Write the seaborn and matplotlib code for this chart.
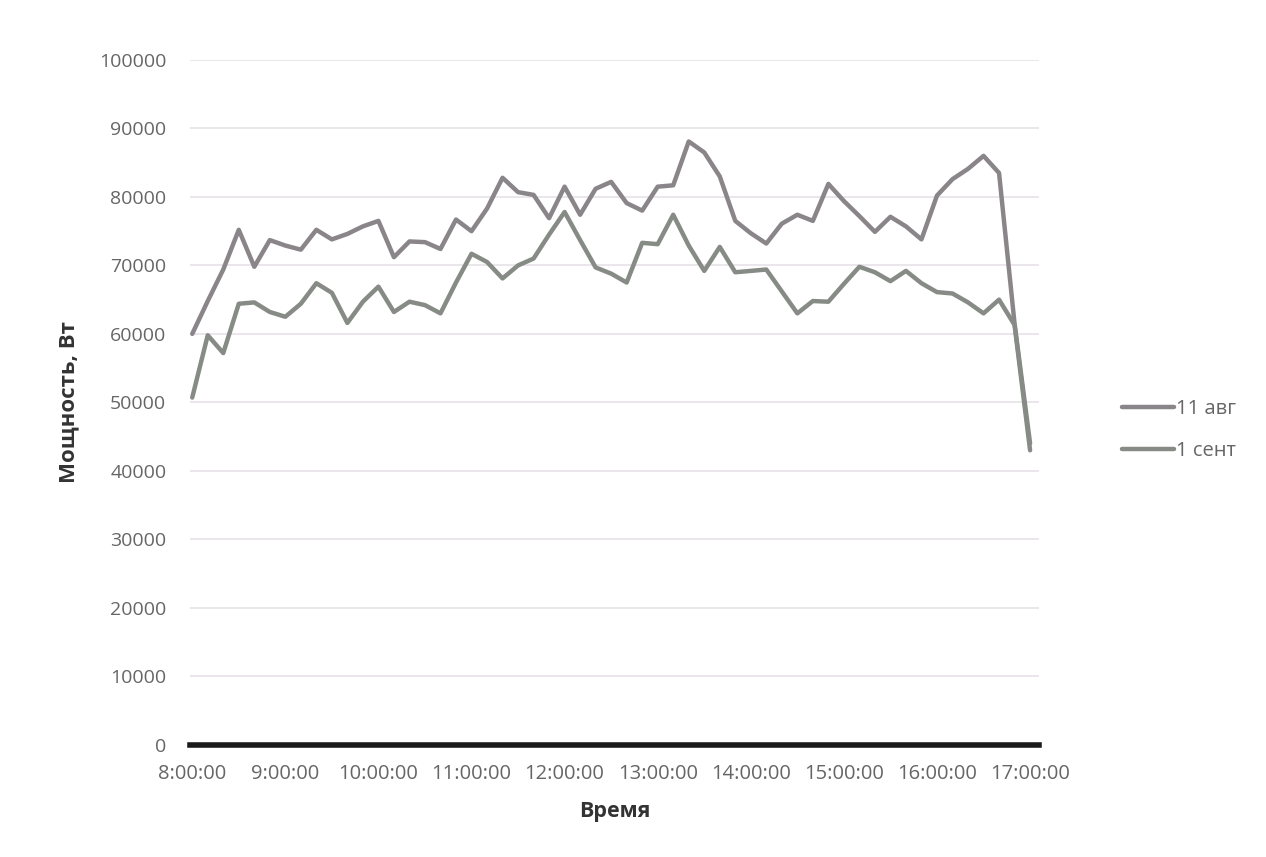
import matplotlib
matplotlib.use('Agg')
import matplotlib.pyplot as plt
import seaborn as sns
import pandas as pd

# Power readings every 10 min, 8:00 .. 17:00 (55 points)
aug_11 = [60000, 64800, 69400, 75200, 69800, 73700, 72900, 72300, 75200, 73800,
          74600, 75700, 76500, 71200, 73500, 73400, 72400, 76700, 75000, 78300,
          82800, 80700, 80300, 76900, 81500, 77400, 81200, 82200, 79100, 78000,
          81500, 81700, 88100, 86500, 83000, 76500, 74700, 73200, 76100, 77400,
          76500, 81900, 79400, 77200, 74900, 77100, 75700, 73800, 80200, 82600,
          84100, 86000, 83500, 61500, 44000]
sep_1 = [50700, 59800, 57200, 64400, 64600, 63200, 62500, 64400, 67400, 66000,
         61600, 64700, 66900, 63200, 64700, 64200, 63000, 67500, 71700, 70500,
         68100, 70000, 71000, 74500, 77800, 73700, 69700, 68800, 67500, 73300,
         73100, 77400, 72900, 69200, 72700, 69000, 69200, 69400, 66200, 63000,
         64800, 64700, 67300, 69800, 69000, 67700, 69200, 67400, 66100, 65900,
         64600, 63000, 65000, 61300, 43000]
series_names = ["11 авг", "1 сент"]
hour_labels = ["8:00:00", "9:00:00", "10:00:00", "11:00:00", "12:00:00",
               "13:00:00", "14:00:00", "15:00:00", "16:00:00", "17:00:00"]
y_ticks = [0, 10000, 20000, 30000, 40000, 50000, 60000, 70000, 80000, 90000, 100000]

n = len(aug_11)
df = pd.DataFrame({
    "step": list(range(n)) * 2,
    "power": aug_11 + sep_1,
    "series": [series_names[0]] * n + [series_names[1]] * n,
})

sns.set_theme(style="white")
plt.rcParams['font.family'] = ['Open Sans', 'DejaVu Sans']

line_colors = ["#8a8589", "#878b86"]

fig = plt.figure(figsize=(12.66, 8.57), dpi=100)
ax = fig.add_axes([0.150, 0.131, 0.671, 0.799])

sns.lineplot(data=df, x="step", y="power", hue="series",
             palette=line_colors, linewidth=3.2, ax=ax, legend=False)

ax.set_xlim(-0.15, n - 1 + 0.6)
ax.set_ylim(0, 100000)
ax.set_yticks(y_ticks)
ax.set_yticklabels([str(v) for v in y_ticks], color="#666666", fontsize=14)
ax.set_xticks(list(range(0, n, 6)))
ax.set_xticklabels(hour_labels, color="#666666", fontsize=14.5)
ax.tick_params(axis="y", length=0, pad=17)
ax.tick_params(axis="x", length=7, width=3, color="#222222", pad=7, direction="out")
ax.grid(axis="y", color="#e6e2e8", linewidth=1.2)
for s in ["top", "right", "left"]:
    ax.spines[s].set_visible(False)
ax.spines["bottom"].set_color("#1a1a1a")
ax.spines["bottom"].set_linewidth(4)

ax.set_xlabel("Время", fontsize=15.5, fontweight="bold", color="#333333", labelpad=12)
ax.set_ylabel("Мощность, Вт", fontsize=16, fontweight="bold", color="#333333", labelpad=14)

handles = [plt.Line2D([], [], color=c, linewidth=3.2) for c in line_colors]
fig.legend(handles, series_names, loc="center left",
           bbox_to_anchor=(1104 / 1266, 1 - 430 / 857), frameon=False,
           fontsize=14.5, handlelength=2.6, handletextpad=0.1, labelspacing=1.1,
           labelcolor="#666666")

plt.savefig("out.png", dpi=100)
plt.close()
